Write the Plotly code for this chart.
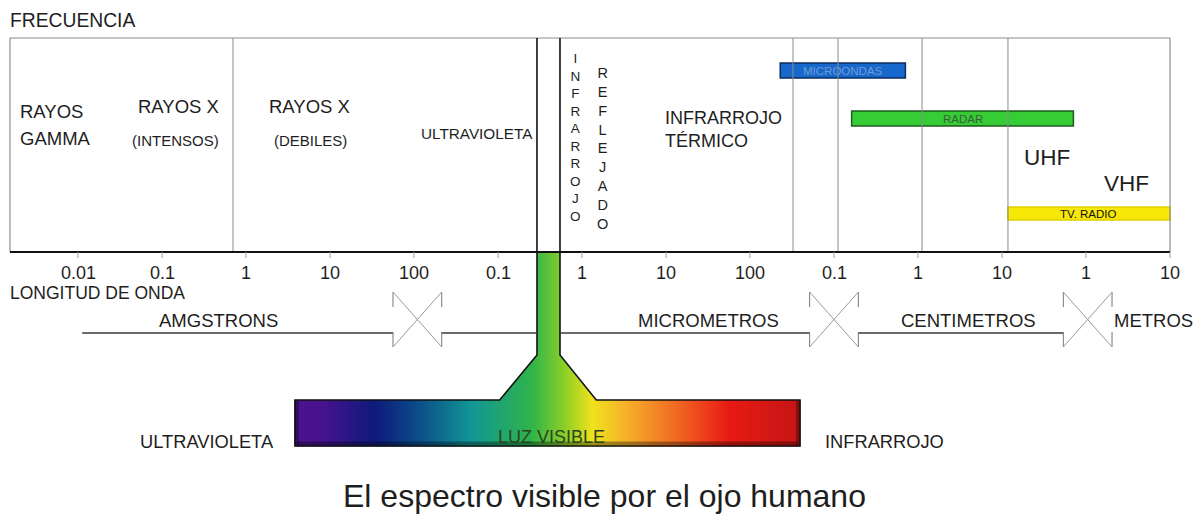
import numpy as np
import plotly.graph_objects as go

# ---------------- data ----------------
# wavelength scale: one step per labelled decade
tick_labels = ["0.01", "0.1", "1", "10", "100", "0.1", "1", "10",
               "100", "0.1", "1", "10", "1", "10"]
tick_index = list(range(len(tick_labels)))

# region boundaries (decade scale)
region_bounds = [1.845, 8.512, 9.048, 10.048, 11.071]
visible_bounds = [5.464, 5.738]
scale_start, scale_end = -0.81, 13.0

# bands drawn as bars (decade scale)
band_names = ["MICROONDAS", "RADAR", "TV. RADIO"]
band_start = [8.36, 9.21, 11.07]
band_end = [9.85, 11.85, 13.0]

# unit ranges
unit_names = ["AMGSTRONS", "MICROMETROS", "CENTIMETROS", "METROS"]
unit_center = [1.67, 7.5, 10.6, 12.8]
unit_breaks = [4.04, 9.0, 12.02]
unit_line_start = 0.05

# visible spectrum enlargement
spectrum_start, spectrum_end = 2.583, 8.595
flare_start, flare_end = 5.02, 6.17

# ---------------- layout helpers ----------------
PX = 84.0          # pixels per decade
X0 = 78.0          # pixel of first tick
W, H = 1204, 515
FONT = "Liberation Sans, Arial, sans-serif"
TXT = "#1e1e1e"
GRAY = "#8c8c8c"

box_top, box_bottom = 38, 252
unit_y = 333
brk_top, brk_mid_top, brk_mid_bot, brk_bot = 292, 307, 332, 347
brk_half = 0.29
stem_bottom, bar_top, bar_bottom = 355, 400, 446

shapes = []


def seg(x0, y0, x1, y1, color=GRAY, width=1.0):
    shapes.append(dict(type="line", xref="x", yref="y", x0=x0, y0=y0,
                       x1=x1, y1=y1, line=dict(color=color, width=width)))


# frame of the frequency box
seg(scale_start, box_top, scale_end, box_top, GRAY, 1.2)
seg(scale_start, box_top, scale_start, box_bottom, GRAY, 1.2)
seg(scale_end, box_top, scale_end, box_bottom, GRAY, 1.2)
for b in region_bounds:
    seg(b, box_top, b, box_bottom, GRAY, 1.0)
for b in visible_bounds:
    seg(b, box_top, b, box_bottom, "#111111", 1.6)
seg(scale_start, box_bottom, scale_end, box_bottom, "#111111", 2.0)
for t in tick_index:
    seg(t, box_bottom, t, box_bottom + 6, "#a0a0a0", 1.0)

# unit line with break symbols
segments = [(unit_line_start, unit_breaks[0] - brk_half),
            (unit_breaks[0] + brk_half, visible_bounds[0]),
            (visible_bounds[1], unit_breaks[1] - brk_half),
            (unit_breaks[1] + brk_half, unit_breaks[2] - brk_half)]
for a, b in segments:
    seg(a, unit_y, b, unit_y, "#3a3a3a", 1.3)
for c in unit_breaks:
    l, r = c - brk_half, c + brk_half
    for xx in (l, r):
        seg(xx, brk_top, xx, brk_mid_top, "#777777", 1.0)
        seg(xx, brk_mid_bot, xx, brk_bot, "#777777", 1.0)
    seg(l, brk_top, r, brk_bot, "#9a9a9a", 1.0)
    seg(r, brk_top, l, brk_bot, "#9a9a9a", 1.0)

# bars
band_fill = ["#1668cc", "#36cc36", "#f7e806"]
band_line = ["#0c2c5c", "#1f5a1f", "#e0d000"]
band_y = [(63, 78), (111, 126), (207, 220)]
band_txt = ["#6f9bd2", "#3d5d3d", "#111111"]
band_size = [11.5, 11.5, 11.5]
annotations = []
for name, s, e, f, lc, (y0, y1), tc, fs in zip(band_names, band_start, band_end,
                                                band_fill, band_line, band_y,
                                                band_txt, band_size):
    shapes.append(dict(type="rect", xref="x", yref="y", x0=s, x1=e, y0=y0, y1=y1,
                       fillcolor=f, line=dict(color=lc, width=1.5), layer="below"))
    annotations.append(dict(x=(s + e) / 2, y=(y0 + y1) / 2, text=name,
                            font=dict(size=fs, color=tc, family=FONT)))

# ---------------- visible spectrum gradient ----------------
xs = np.arange(spectrum_start, spectrum_end + 1e-9, 1.0 / PX)
ys = np.arange(box_bottom, bar_bottom + 1)
XX, YY = np.meshgrid(xs, ys)
frac = np.clip((YY - stem_bottom) / (bar_top - stem_bottom), 0, 1)
left_edge = visible_bounds[0] + (flare_start - visible_bounds[0]) * frac
right_edge = visible_bounds[1] + (flare_end - visible_bounds[1]) * frac
inside = np.where(YY < bar_top,
                  (XX >= left_edge) & (XX <= right_edge),
                  True)
z = (XX - spectrum_start) / (spectrum_end - spectrum_start)
z = np.where(inside, z, np.nan)

colorscale = [
    [0.0, "#4a148c"], [0.05, "#4a128f"], [0.16, "#0d1a7a"],
    [0.25, "#0b508a"], [0.35, "#129696"], [0.47, "#2fb44a"],
    [0.535, "#8ccf27"], [0.59, "#f0e21c"], [0.66, "#f6ae2a"],
    [0.76, "#f16622"], [0.86, "#e81a14"], [1.0, "#c51515"],
]

fig = go.Figure()
fig.add_trace(go.Heatmap(x=xs, y=ys, z=z, colorscale=colorscale, zmin=0, zmax=1,
                         showscale=False, hoverinfo="skip", zsmooth=False))

# subtle dark shading near bar edges
fig.add_trace(go.Scatter(
    x=[spectrum_start + 2 / PX, spectrum_end - 2 / PX],
    y=[bar_bottom - 2.5, bar_bottom - 2.5], mode="lines",
    line=dict(color="rgba(0,0,0,0.35)", width=4), hoverinfo="skip", showlegend=False))
for xe in (spectrum_start + 2 / PX, spectrum_end - 2 / PX):
    fig.add_trace(go.Scatter(x=[xe, xe], y=[bar_top + 1, bar_bottom - 1], mode="lines",
                             line=dict(color="rgba(0,0,0,0.3)", width=4),
                             hoverinfo="skip", showlegend=False))

# outline of the T shape
ox = [visible_bounds[0], visible_bounds[0], flare_start, spectrum_start, spectrum_start,
      spectrum_end, spectrum_end, flare_end, visible_bounds[1], visible_bounds[1]]
oy = [box_bottom, stem_bottom, bar_top, bar_top, bar_bottom,
      bar_bottom, bar_top, bar_top, stem_bottom, box_bottom]
fig.add_trace(go.Scatter(x=ox, y=oy, mode="lines", line=dict(color="#111111", width=1.6),
                         hoverinfo="skip", showlegend=False))

# ---------------- texts ----------------
def txt(x, y, s, size, anchor="center", color=TXT):
    annotations.append(dict(x=x, y=y, text=s, xanchor=anchor,
                            font=dict(size=size, color=color, family=FONT)))


def px(p):
    return (p - X0) / PX


txt(px(8), 20, "FRECUENCIA", 19.3, "left")
txt(px(18), 111, "RAYOS", 18.5, "left")
txt(px(18), 138, "GAMMA", 18.5, "left")
txt(px(178), 106, "RAYOS X", 18.5)
txt(px(175), 140, "(INTENSOS)", 15)
txt(px(309), 106, "RAYOS X", 18.5)
txt(px(310), 140, "(DEBILES)", 15)
txt(px(477), 133, "ULTRAVIOLETA", 15.3)
txt(px(575), 137.5, "<br>".join("INFRARROJO"), 13.5)
txt(px(602), 148.5, "<br>".join("REFLEJADO"), 14.5)
txt(px(663), 118, "INFRARROJO", 18, "left")
txt(px(663), 141, "TÉRMICO", 18, "left")
txt(px(1047), 157, "UHF", 22.5)
txt(px(1126), 183, "VHF", 22.5)

for t, lab in zip(tick_index, tick_labels):
    txt(t, 273, lab, 18)
txt(px(8), 293, "LONGITUD DE ONDA", 17.5, "left")
for c, name in zip(unit_center, unit_names):
    txt(c, 320, name, 18.5)

txt(px(207), 441, "ULTRAVIOLETA", 18.3)
txt(px(884), 441, "INFRARROJO", 18.3)
txt(px(551), 437, "LUZ VISIBLE", 18, color="#2b4420")
txt(px(604), 496, "El espectro visible por el ojo humano", 32)

for a in annotations:
    a.update(xref="x", yref="y", showarrow=False)

fig.update_layout(
    width=W, height=H, margin=dict(l=0, r=0, t=0, b=0),
    paper_bgcolor="white", plot_bgcolor="white", showlegend=False,
    xaxis=dict(range=[px(0), px(W)], visible=False, fixedrange=True),
    yaxis=dict(range=[H, 0], visible=False, fixedrange=True),
    shapes=shapes, annotations=annotations,
)
fig.write_html("out.html", config={"displayModeBar": False},
               post_script="document.body.style.margin='0px';")
